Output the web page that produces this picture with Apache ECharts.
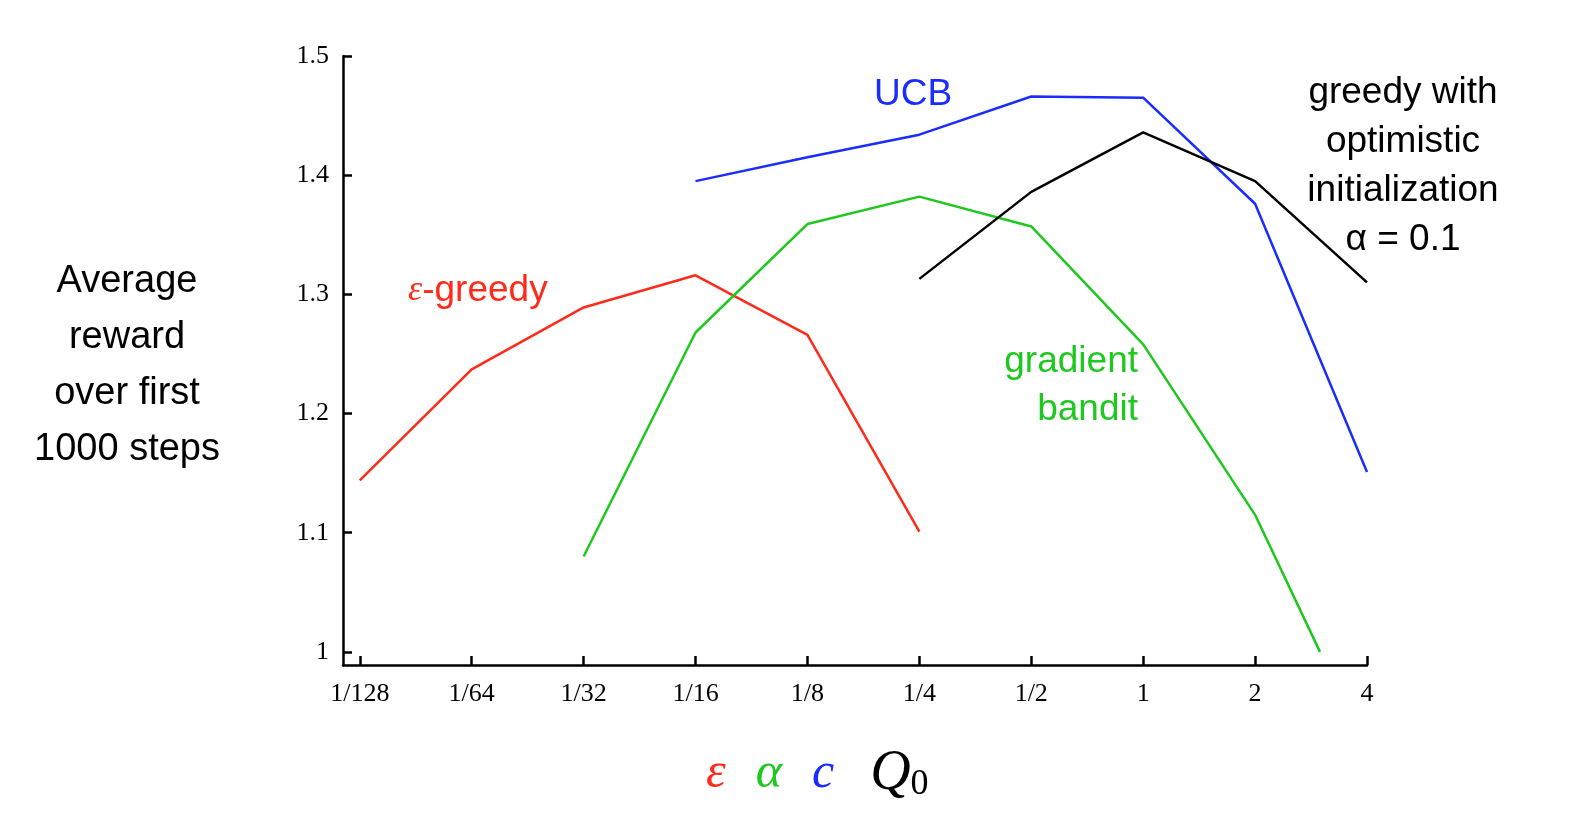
<!DOCTYPE html>
<html>
<head>
<meta charset="utf-8">
<script src="https://cdn.jsdelivr.net/npm/echarts@6/dist/echarts.min.js"></script>
<style>html,body{margin:0;background:#fff}#main{width:1591px;height:825px}</style>
</head>
<body>
<div id="main"></div>
<script>
// x positions are log2 of the parameter value
var tickLabels = ['1/128', '1/64', '1/32', '1/16', '1/8', '1/4', '1/2', '1', '2', '4'];
var tickPos = [-7, -6, -5, -4, -3, -2, -1, 0, 1, 2];
var yTicks = [1, 1.1, 1.2, 1.3, 1.4, 1.5];

var epsX = [-7, -6, -5, -4, -3, -2];
var epsY = [1.144, 1.237, 1.289, 1.316, 1.266, 1.101];
var gradX = [-5, -4, -3, -2, -1, 0, 1, 1.58];
var gradY = [1.080, 1.268, 1.359, 1.382, 1.357, 1.258, 1.115, 1.0];
var ucbX = [-4, -3, -2, -1, 0, 1, 2];
var ucbY = [1.395, 1.415, 1.434, 1.466, 1.465, 1.376, 1.151];
var optX = [-2, -1, 0, 1, 2];
var optY = [1.313, 1.386, 1.436, 1.395, 1.310];

function pairs(xs, ys) { return xs.map(function (x, i) { return [x, ys[i]]; }); }
function line(name, xs, ys, color) {
  return { name: name, type: 'line', data: pairs(xs, ys), symbol: 'none', silent: true,
    lineStyle: { color: color, width: 2.5 } };
}

var chart = echarts.init(document.getElementById('main'));
var serif = 'Liberation Serif';
var sans = 'Liberation Sans';
chart.setOption({
  animation: false,
  grid: { left: 343, right: 224, top: 56, bottom: 160 },
  xAxis: {
    type: 'value', min: -7.15, max: 2,
    splitLine: { show: false },
    axisLine: { onZero: false, lineStyle: { color: '#000', width: 2.5 } },
    axisTick: { customValues: tickPos, length: 9, inside: true, lineStyle: { color: '#000', width: 2.5 } },
    axisLabel: { customValues: tickPos, color: '#000', fontFamily: serif, fontSize: 26, margin: 16,
      formatter: function (v) { return tickLabels[tickPos.indexOf(Math.round(v))]; } }
  },
  yAxis: {
    type: 'value', min: 0.989, max: 1.5,
    splitLine: { show: false },
    axisLine: { show: true, onZero: false, lineStyle: { color: '#000', width: 2.5 } },
    axisTick: { customValues: yTicks, length: 9, inside: true, lineStyle: { color: '#000', width: 2.5 } },
    axisLabel: { customValues: yTicks, color: '#000', fontFamily: serif, fontSize: 26, margin: 14,
      formatter: function (v) { return v === 1 ? '1' : v.toFixed(1); } }
  },
  series: [
    line('eps', epsX, epsY, '#ff2a1a'),
    line('grad', gradX, gradY, '#1ec81e'),
    line('ucb', ucbX, ucbY, '#1a2cff'),
    line('opt', optX, optY, '#000')
  ],
  graphic: [
    { type: 'text', x: 127, y: 254, style: { text: 'Average\nreward\nover first\n1000 steps', align: 'center',
      fill: '#000', font: '38px ' + sans, lineHeight: 56 } },
    { type: 'text', x: 408, y: 272, style: { text: '{e|ε}-greedy', fill: '#ff2a1a', font: '37px ' + sans,
      rich: { e: { fontFamily: serif, fontStyle: 'italic', fontSize: 36, fill: '#ff2a1a' } } } },
    { type: 'text', x: 874, y: 76, style: { text: 'UCB', fill: '#1a2cff', font: '37px ' + sans } },
    { type: 'text', x: 1138, y: 338, style: { text: 'gradient\nbandit', align: 'right', fill: '#1ec81e', font: '37px ' + sans, lineHeight: 48 } },
    { type: 'text', x: 1403, y: 68, style: { text: 'greedy with\noptimistic\ninitialization\nα = 0.1', align: 'center',
      fill: '#000', font: '37px ' + sans, lineHeight: 49 } },
    { type: 'text', x: 706, y: 745, style: { text: '{r|ε}{g|α}{b|c}{k|Q}{s|0}',
      rich: {
        r: { fill: '#ff2a1a', fontFamily: serif, fontStyle: 'italic', fontSize: 50, padding: [0, 30, 0, 0] },
        g: { fill: '#1ec81e', fontFamily: serif, fontStyle: 'italic', fontSize: 50, padding: [0, 30, 0, 0] },
        b: { fill: '#1a2cff', fontFamily: serif, fontStyle: 'italic', fontSize: 50, padding: [0, 36, 0, 0] },
        k: { fill: '#000', fontFamily: serif, fontStyle: 'italic', fontSize: 56 },
        s: { fill: '#000', fontFamily: serif, fontSize: 36, padding: [22, 0, 0, 0] }
      } } }
  ]
});
</script>
</body>
</html>
